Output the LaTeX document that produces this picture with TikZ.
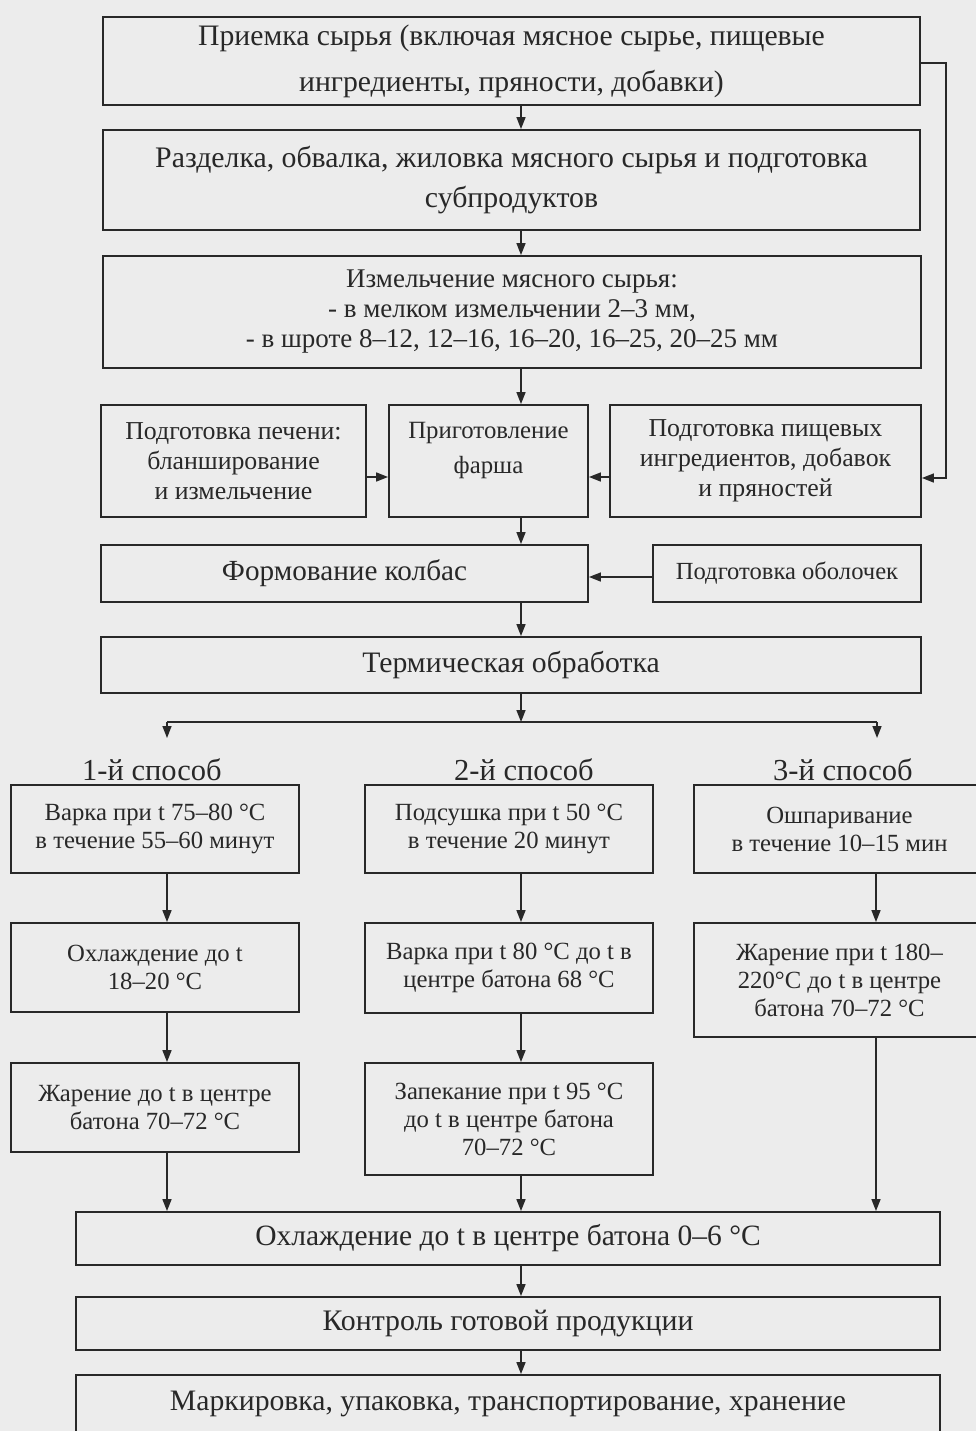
\documentclass[tikz,border=0pt]{standalone}
\usepackage{fontspec}
\setmainfont{Liberation Serif}
\usetikzlibrary{arrows.meta,calc}
\definecolor{bg}{RGB}{236,236,236}
\definecolor{ink}{RGB}{40,40,40}
\tikzset{
  box/.style={draw=ink, line width=1.9pt, align=center, inner sep=0pt, text=ink},
  arr/.style={draw=ink, line width=1.6pt, -{Triangle[length=12pt,width=9pt]}},
  ln/.style={draw=ink, line width=1.6pt},
  lbl/.style={text=ink, inner sep=0pt, align=center},
}
\newcommand{\fs}[2]{\fontsize{#1}{#2}\selectfont}
\begin{document}
\begin{tikzpicture}[x=1pt,y=-1pt]
\fill[bg] (0,0) rectangle (976,1431);
\useasboundingbox (0,0) rectangle (976,1431);
\coordinate (mid) at (521,0);
\coordinate (feed) at (946,0);
% top boxes
\node[box, minimum width=817, minimum height=88, font=\fs{29.7}{46}] (b1) at (511.5,61)
  {Приемка сырья (включая мясное сырье, пищевые\\ингредиенты, пряности, добавки)};
\node[box, minimum width=817, minimum height=100, font=\fs{29.8}{40}] (b2) at (511.5,180)
  {Разделка, обвалка, жиловка мясного сырья и подготовка\\субпродуктов};
\node[box, minimum width=818, minimum height=112, font=\fs{27}{30}] (b3) at (512,312)
  {Измельчение мясного сырья:\\- в мелком измельчении 2--3 мм,\\- в шроте 8--12, 12--16, 16--20, 16--25, 20--25 мм};
% row of three
\node[box, minimum width=265, minimum height=112, font=\fs{25.8}{30}] (b4L) at (233.5,461)
  {Подготовка печени:\\бланширование\\и измельчение};
\node[box, minimum width=199, minimum height=112] (b4M) at (488.5,461) {};
\node[lbl, font=\fs{24.8}{35}] (b4Mt) at (488.5,451) {Приготовление\\фарша};
\node[box, minimum width=311, minimum height=112, font=\fs{25.8}{30}] (b4R) at (765.5,461)
  {Подготовка пищевых\\ингредиентов, добавок\\и пряностей};
% forming
\node[box, minimum width=487, minimum height=57, font=\fs{29.2}{32}] (b5) at (344.5,573.5)
  {Формование колбас};
\node[box, minimum width=268, minimum height=57, font=\fs{24.6}{28}] (b5R) at (787,573.5)
  {Подготовка оболочек};
\node[box, minimum width=820, minimum height=56, font=\fs{29.7}{32}] (b6) at (511,665)
  {Термическая обработка};
% branch
\coordinate (brL) at (167,722);
\coordinate (brR) at (877,722);
\coordinate (brM) at (521,722);
\coordinate (tL) at (167,738);
\coordinate (tR) at (877,738);
\node[lbl, font=\fs{30.5}{32}] (m1) at (152,770) {1-й способ};
\node[lbl, font=\fs{30.5}{32}] (m2) at (524,770) {2-й способ};
\node[lbl, font=\fs{30.5}{32}] (m3) at (843,770) {3-й способ};
% row A
\node[box, minimum width=288, minimum height=88, font=\fs{24.7}{28}] (aL) at (155,829)
  {Варка при t 75--80 °C\\в течение 55--60 минут};
\node[box, minimum width=288, minimum height=88, font=\fs{24.7}{28}] (aM) at (509,829)
  {Подсушка при t 50 °C\\в течение 20 минут};
\node[box, minimum width=291, minimum height=88, font=\fs{24.7}{28}] (aR) at (839.5,829)
  {Ошпаривание\\в течение 10--15 мин};
% row B
\node[box, minimum width=288, minimum height=89, font=\fs{24.7}{28}] (bL) at (155,967.5)
  {Охлаждение до t\\18--20 °C};
\node[box, minimum width=288, minimum height=90, font=\fs{24.7}{28}] (bM) at (509,968)
  {Варка при t 80 °C до t в\\центре батона 68 °C};
\node[box, minimum width=291, minimum height=114, font=\fs{24.7}{28}] (bR) at (839.5,980)
  {Жарение при t 180--\\220°C до t в центре\\батона 70--72 °C};
% row C
\node[box, minimum width=288, minimum height=89, font=\fs{24.7}{28}] (cL) at (155,1107.5)
  {Жарение до t в центре\\батона 70--72 °C};
\node[box, minimum width=288, minimum height=112, font=\fs{24.7}{28}] (cM) at (509,1119)
  {Запекание при t 95 °C\\до t в центре батона\\70--72 °C};
% bottom
\node[box, minimum width=864, minimum height=53, font=\fs{29.5}{32}] (d1) at (508,1238.5)
  {Охлаждение до t в центре батона 0--6 °C};
\node[box, minimum width=864, minimum height=53, font=\fs{29.8}{32}] (d2) at (508,1323.5)
  {Контроль готовой продукции};
\node[box, minimum width=864, minimum height=70] (d3) at (508,1410) {};
\node[lbl, font=\fs{29.7}{32}] (d3t) at (508,1404) {Маркировка, упаковка, транспортирование, хранение};
% connectors
\draw[arr] (b1.south -| mid) -- (b2.north -| mid);
\draw[arr] (b2.south -| mid) -- (b3.north -| mid);
\draw[arr] (b3.south -| mid) -- (b4M.north -| mid);
\draw[arr] (b1.east |- 0,63) -- (feed |- 0,63) -- (feed |- 0,478) -- ($(b4R.east)+(0,17)$);
\draw[arr] ($(b4L.east)+(0,16)$) -- ($(b4M.west)+(0,16)$);
\draw[arr] ($(b4R.west)+(0,16)$) -- ($(b4M.east)+(0,16)$);
\draw[arr] (b4M.south -| mid) -- (b5.north -| mid);
\draw[arr] ($(b5R.west)+(0,3.5)$) -- ($(b5.east)+(0,3.5)$);
\draw[arr] (b5.south -| mid) -- (b6.north -| mid);
\draw[arr] (b6.south -| mid) -- (brM);
\draw[ln] (brL) -- (brR);
\draw[arr] (brL) -- (tL);
\draw[arr] (brR) -- (tR);
\coordinate (xL) at (167,0);
\coordinate (xR) at (876,0);
\draw[arr] (aL.south -| xL) -- (bL.north -| xL);
\draw[arr] (aM.south -| mid) -- (bM.north -| mid);
\draw[arr] (aR.south -| xR) -- (bR.north -| xR);
\draw[arr] (bL.south -| xL) -- (cL.north -| xL);
\draw[arr] (bM.south -| mid) -- (cM.north -| mid);
\draw[arr] (cL.south -| xL) -- (d1.north -| xL);
\draw[arr] (cM.south -| mid) -- (d1.north -| mid);
\draw[arr] (bR.south -| xR) -- (d1.north -| xR);
\draw[arr] (d1.south -| mid) -- (d2.north -| mid);
\draw[arr] (d2.south -| mid) -- (d3.north -| mid);
\end{tikzpicture}
\end{document}
